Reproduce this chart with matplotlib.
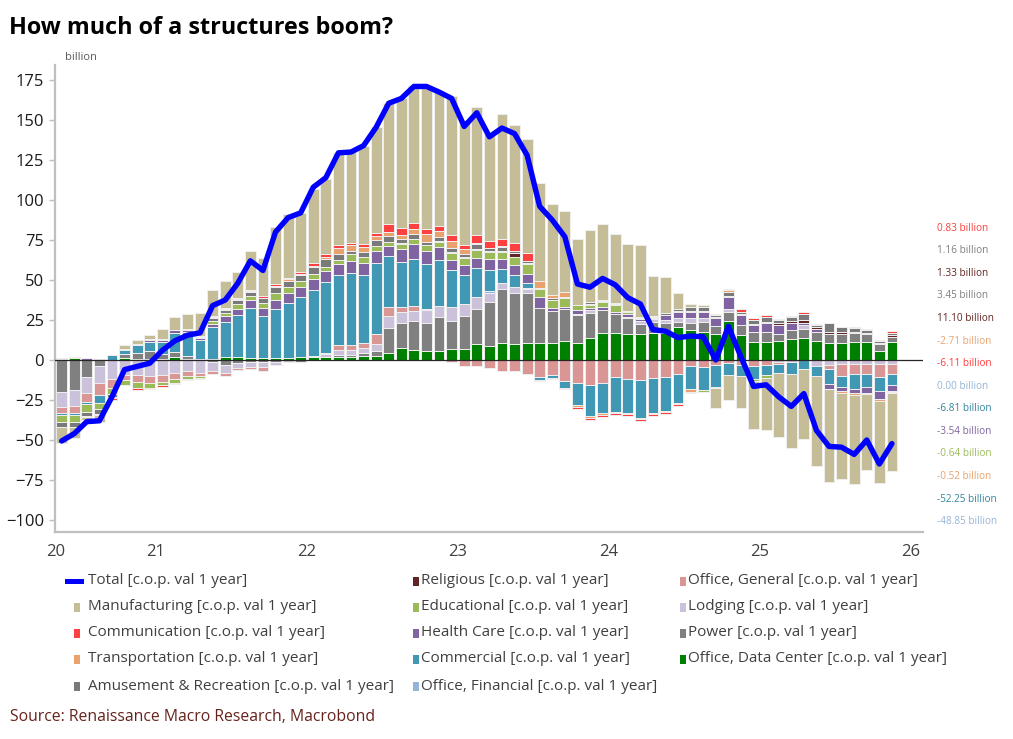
import numpy as np
import matplotlib
matplotlib.use("Agg")
import matplotlib.pyplot as plt
from matplotlib.patches import Rectangle

# --- DATOS: mensual, mayo 2020 .. noviembre 2025 (c.o.p. val 1 year, billion) ---
mes_inicio = 4  # meses desde enero 2020

total = [
    -50.6, -46, -38.5, -38, -23, -6, -4, -2,
    6, 12, 15.5, 17, 34, 37.5, 48, 62, 56, 80, 89, 92,
    108, 114, 129.5, 130, 134, 145.5, 160.5, 163.5, 171, 171, 167.5, 163.5,
    146, 154.5, 139.5, 145, 141.5, 128, 96, 87.5, 77, 47.5, 45.5, 51,
    47, 39, 35, 19, 18, 14, 15, 14.5, 0, 21, 2, -16.5,
    -15.5, -23, -29, -21, -44, -54, -54.5, -59, -50, -65, -52.25]

manufacturing = [
    -9.8, -6.7, -2, -4, 0, 2.4, 2.4, 2.5,
    6.3, 8, 9, 14.3, 16.5, 17, 16, 24.2, 23.7, 35.8, 39.8, 37,
    46.3, 47, 57.6, 56.7, 61.7, 66.3, 75.7, 80.8, 85.2, 89.4, 84, 86.4,
    78, 79.8, 66.8, 78.5, 74.1, 71.3, 61.4, 56.5, 50.6, 41, 45, 47.5,
    43, 42, 45, 25, 22.3, 10, 2, 1.1, -12.5, -15.6, -20.2, -30.4,
    -32.9, -39.6, -46.4, -43.75, -55.8, -58, -53.8, -55.5, -47.9, -50.9, -48.85]

communication = [
    0.5, 0.5, -0.8, -1, -1.2, -0.5, -1, -1,
    -1, -0.8, -0.5, -0.5, 0.5, 0.7, 1, 0.8, 0.8, 1, 1, 1,
    1.5, 1.5, 2.1, 1.4, 1.5, 1.7, 4.8, 4.9, 3.9, 3.2, 3.5, 4.2,
    2.5, 4.8, 4, 4.3, 4.5, 4.8, -0.5, -0.5, -0.7, -1, -1.1, -1.5,
    -1, -1.1, -1, -1.4, -1.3, -1, -1, 0.5, 0.8, 0.7, 1.4, 1,
    1.1, 0.4, 0.4, 1.45, 0.5, 0.5, 0.5, 0.8, 0.8, 0.8, 0.83]

transportation = [
    0.4, 0, 0, 0, -0.5, 0, 0, 0,
    0, 0, 0, 0.3, 0.5, 0.5, 0.5, 0.5, 0.5, 1, 1, 1,
    1, 1.6, 3.8, 3.9, 3.1, 2.5, 2.5, 2, 3.1, 4.7, 3.5, 4.2,
    3.1, 1, 0, 0.5, 0, 0, 4.6, 2, 3.1, -1.3, -1.4, -1,
    -0.5, -0.5, -0.5, -0.5, -0.5, -0.5, -1.5, -0.5, 0, 1, 0, 0,
    0, 0, 0, 0, 0, 0, -1, -1.7, -0.8, -1.5, -0.52]

amusement = [
    -3.1, -3.2, -2.7, -3, -2, 0, 0, 0.5,
    0.5, 0.5, 0.5, 0.5, 2, 2, 2.5, 2.5, 3, 3.7, 4, 3.6,
    4.2, 4.6, 3.5, 2, 3.1, 3.5, 3.5, 2.5, 3.3, 2.1, 2.7, 2.7,
    2, 2.7, 2, 2.7, 1.7, 1, 0, 1, 0.5, 0, 1, 0.5,
    1, 0.5, 0.5, 0.5, 1, 1, 2, 2, 1.5, 2.4, 1.6, 2.5,
    3.1, 2.1, 2.6, 3.75, 1.6, 5.1, 2.6, 2, 1.7, 1.2, 1.16]

religious = [
    0, 0, 0, 0, 0, 0, 0, 0,
    0, 0, 0, 0, 0, 0, 0, 0, 0, 0, 0, 0,
    0, 0, 0, 0, 0, 0, 0, 0.6, 0.3, 0.3, 0.3, 0.3,
    1, 1, 1, 0.5, 2.5, 1, 0.5, 0.3, 0.3, 0.3, 0.5, 0.3,
    0.3, 0.3, 0.3, 0.6, 0.5, 0.5, 0.7, 0.7, 0.7, 0.8, 0.6, 0.6,
    1, 1, 1.2, 1.7, 1.2, 1.5, 1.5, 1, 0.8, 0.8, 1.33]

educational = [
    -4.2, -3.9, -4.8, -4, -4, -3, -4.2, -3,
    -2, -2.5, -2, -1.5, 2, 2, 3, 2.5, 3, 4.2, 3.7, 3.6,
    3.3, 2.7, 2.7, 4.1, 4.2, 3.2, 2.5, 3.1, 2.9, 3.5, 3.2, 4.5,
    4.1, 5, 4.2, 4.1, 4.8, 6.3, 4.8, 5, 5.2, 2.7, 2, 3.2,
    4.5, 1.5, 0.5, 0, 0, 0, 0, -1.2, -0.5, 0, 0, -1,
    -1.5, 0, 0, 0, 0, 0, 0, 0, 0, 0, -0.64]

health_care = [
    0, 0, 1.5, 0, 0, 0.5, 0.5, 1,
    1, 1.5, 1.5, 1.5, 2, 3.5, 4, 5, 5, 5.8, 6.3, 6.2,
    6.7, 6.6, 6.8, 7.3, 7.4, 7.9, 6.5, 8.3, 9, 8.3, 7.9, 6.25,
    6.4, 6.1, 6.9, 6.2, 6.3, 5.6, 7.3, 2, 1.6, 2.5, 1.5, 2,
    1.5, 1.5, 1, 1, 3, 4.2, 4.2, 4.2, 4.7, 7.8, 6.2, 4.2,
    5.2, 5.7, 4.55, 1.6, 1.5, -3.1, -2.7, -2.5, -3.3, -4.8, -3.54]

commercial = [
    -1.5, -1.3, -1.5, -4.6, 3, 3, 5, 6,
    8, 12, 15, 12, 20, 22, 26, 31, 26, 30.7, 33.9, 37.6,
    41.2, 44.5, 43.4, 45.1, 42.5, 44.4, 31.7, 28.1, 29.75, 28.1, 29.2, 23.35,
    18, 18.3, 13, 8.8, 7.7, 3.1, -2, -2, -4.4, -13.9, -19.4, -19.1,
    -21.9, -21.2, -24, -21.5, -20.9, -18.3, -14.3, -14, -14, -7.4, -7, -8.5,
    -6.5, -5.8, -7, -5.8, -6.5, -9.4, -6.7, -9, -8.1, -9, -6.81]

office_financial = [
    0, 0, 0, 0, 0, 0, 0, 0,
    0, 0, 0, 0, 0, 0, 0, 0, 0, 0, 0, 0,
    0, 0, 0, 0, 0, 0, 0, 0, 0, 0, 0, 0,
    0, 0, 1.5, 0.5, 0, 0.5, 0, 0, 0, 0, 0, 0,
    0, 0, 0, 0, 0, 0, 0, 0, 0, 0, 0, 0,
    0, 0, 0, 0, 0, 0, 0, 0, 0, 0, 0.0]

office_general = [
    -3.7, -4.6, -5.6, -7.9, -5.2, -3, -4.2, -4.2,
    -4.2, -3.7, -3, -2, -1.5, -2, -1, -1, -2.5, 0, 0, 0,
    0.5, 1, 3.1, 3.5, 3, 6, 5.8, 3.1, 2.95, 0.5, 0, -1,
    -4, -4, -5, -7, -7, -9, -10.5, -9.5, -12.9, -14.2, -15.6, -14.2,
    -10.8, -12.1, -12.5, -11.5, -10.8, -8.75, -4, -4.6, -3, -2, -3, -3.5,
    -3, -1.5, 0, 0, 0, -2.5, -7.3, -6.25, -6.25, -7.7, -6.11]

lodging = [
    -9.4, -10, -9.6, -10.4, -12, -9.4, -9.4, -10,
    -9.4, -8, -7, -8, -6, -5, -3, -3, -3, -2, -1.5, 0,
    0, 1.5, 3.5, 3, 3, 4.5, 7.7, 7.3, 6.2, 7.9, 7, 8.3,
    7.5, 7.3, 5.2, 3.7, 3.3, 2.7, 0, 0, 0, 0.8, 1.5, 0,
    0, 1, 2, 1.4, 2, 2, 2.7, 2, 0, 1.5, 0, 0,
    0, -1, -1.5, 2.5, -3.75, -3.3, -2.7, -2.7, -2.7, -2.7, -2.71]

power = [
    -20, -18.75, -10.8, -3.7, 0, 2.5, 4, 5,
    3, 3, 2, 0, -1, -3, -2, -1.5, -1.5, -1, 0, -1,
    0, 0, 1, 1, 2, 3, 15.6, 15.6, 18.3, 17.5, 20.8, 17.9,
    20.8, 22, 27.5, 33.8, 32.1, 31.3, 21.5, 20, 19.7, 17.7, 15.6, 14.6,
    11.8, 10, 6.25, 7.3, 6.2, 3.6, 4.5, 6.3, 5, 5.6, 6.3, 6.2,
    6.2, 4.2, 5.75, 5.2, 5.7, 5.45, 5.45, 5.2, 4.75, 4.2, 3.45]

data_center = [
    0.3, 1.5, 0, 0.5, 0.3, 1, 0.5, 0.5,
    0.5, 2, 0.5, 0.5, 0.5, 2, 2, 1.5, 1.5, 1, 1.5, 2,
    2, 2, 2, 2, 2.5, 2.5, 4.2, 7.3, 6.25, 5.8, 5.8, 6.7,
    6.7, 10, 9, 10.4, 10, 10.4, 10.8, 10.5, 12, 10.4, 14, 16.7,
    16.7, 16, 16.25, 16.7, 16.7, 20.4, 18.75, 17.7, 16.3, 24.6, 15.6, 11.5,
    11.5, 12, 13, 14, 12, 10.8, 10.8, 11.5, 11.5, 5.8, 11.10]

anios = ['20', '21', '22', '23', '24', '25', '26']

# etiquetas del último dato (margen derecho)
etiquetas_ult = [
    ('0.83 billion', '#ff3b3b'), ('1.16 billion', '#7f7f7f'),
    ('1.33 billion', '#632523'), ('3.45 billion', '#7f7f7f'),
    ('11.10 billion', '#632523'), ('-2.71 billion', '#e9a36f'),
    ('-6.11 billion', '#ff3b3b'), ('0.00 billion', '#95b3d7'),
    ('-6.81 billion', '#31859c'), ('-3.54 billion', '#7f64a2'),
    ('-0.64 billion', '#9bbb59'), ('-0.52 billion', '#e9a36f'),
    ('-52.25 billion', '#31859c'), ('-48.85 billion', '#95b3d7')]

SUF = ' [c.o.p. val 1 year]'
# orden de apilado: desde el cero hacia afuera
apilado = [
    ('Office, Data Center', data_center, '#008000'),
    ('Power', power, '#808080'),
    ('Lodging', lodging, '#ccc1da'),
    ('Office, General', office_general, '#d99694'),
    ('Office, Financial', office_financial, '#95b3d7'),
    ('Commercial', commercial, '#4198b4'),
    ('Health Care', health_care, '#8064a2'),
    ('Educational', educational, '#9bbb59'),
    ('Religious', religious, '#632523'),
    ('Amusement & Recreation', amusement, '#7a7a7a'),
    ('Transportation', transportation, '#e9a26d'),
    ('Communication', communication, '#ff4040'),
    ('Manufacturing', manufacturing, '#c4bd97'),
]
colores = {nombre: c for nombre, _, c in apilado}

n = len(total)
for nombre, serie, _ in apilado:
    assert len(serie) == n, nombre
x = np.arange(n) + mes_inicio + 0.5

W, H = 1013, 739
fig = plt.figure(figsize=(W / 100, H / 100), dpi=100)
plt.rcParams['font.family'] = ['Open Sans', 'DejaVu Sans']

def fx(px):
    return px / W

def fy(py):
    return 1 - py / H

ax = fig.add_axes([fx(55), fy(532), (923 - 55) / W, (532 - 65) / H])

base_pos = np.zeros(n)
base_neg = np.zeros(n)
for nombre, serie, color in apilado:
    v = np.array(serie, dtype=float)
    pos = v > 0
    neg = v < 0
    ax.bar(x[pos], v[pos], bottom=base_pos[pos], width=0.86, color=color,
           edgecolor='#efefef', linewidth=0.7, zorder=2)
    ax.bar(x[neg], v[neg], bottom=base_neg[neg], width=0.86, color=color,
           edgecolor='#efefef', linewidth=0.7, zorder=2)
    base_pos += np.where(pos, v, 0)
    base_neg += np.where(neg, v, 0)

ax.axhline(0, color='#262626', linewidth=0.9, zorder=3)
ax.plot(x, total, color='#0000ff', linewidth=3.9, solid_joinstyle='round',
        solid_capstyle='round', zorder=5)

ax.set_xlim(3.97, 72.97)
ax.set_ylim(-107.5, 184.4)
ax.set_yticks(np.arange(-100, 176, 25))
ax.set_xticks([4.0, 12, 24, 36, 48, 60, 72])
ax.set_xticklabels(anios)
ax.tick_params(axis='y', length=4, width=1, color='#bfbfbf', pad=4,
               labelsize=12, labelcolor='#1a1a1a')
ax.tick_params(axis='x', length=0, pad=9, labelsize=12, labelcolor='#404040')
for lado in ['top', 'right']:
    ax.spines[lado].set_visible(False)
for lado in ['left', 'bottom']:
    ax.spines[lado].set_color('#bfbfbf')
    ax.spines[lado].set_linewidth(1.6)

# titulo, unidad y fuente
fig.text(fx(9), fy(28), 'How much of a structures boom?', fontsize=16.8,
         fontweight='bold', color='#000000', va='center', ha='left')
fig.text(fx(65), fy(57), 'billion', fontsize=8, color='#595959',
         va='center', ha='left')
fig.text(fx(10), fy(717), 'Source: Renaissance Macro Research, Macrobond',
         fontsize=11.3, color='#66231c', va='center', ha='left')

# etiquetas a la derecha
for i, (txt, col) in enumerate(etiquetas_ult):
    fig.text(fx(937), fy(228 + i * 22.6), txt, fontsize=7.2, color=col,
             va='center', ha='left')

# leyenda manual (3 columnas)
leyenda = [
    [('Total', '#0000ff'), ('Manufacturing', None), ('Communication', None),
     ('Transportation', None), ('Amusement & Recreation', None)],
    [('Religious', None), ('Educational', None), ('Health Care', None),
     ('Commercial', None), ('Office, Financial', None)],
    [('Office, General', None), ('Lodging', None), ('Power', None),
     ('Office, Data Center', None)],
]
col_texto = [88, 421, 688]
col_cuadro = [74, 413, 680]
filas_y = [581, 607, 633, 659, 686]
for c, entradas in enumerate(leyenda):
    for r, (nombre, col) in enumerate(entradas):
        yy = filas_y[r]
        if nombre == 'Total':
            fig.add_artist(Rectangle((fx(65), fy(yy + 2.5)), 19 / W, 5 / H,
                                     transform=fig.transFigure,
                                     color=col, lw=0))
        else:
            fig.add_artist(Rectangle((fx(col_cuadro[c]), fy(yy + 4.5)), 6 / W, 9 / H,
                                     transform=fig.transFigure,
                                     color=colores[nombre], lw=0))
        fig.text(fx(col_texto[c]), fy(yy), nombre + SUF, fontsize=11,
                 color='#404040', va='center', ha='left')

fig.savefig('out.png', dpi=100)
plt.close(fig)
